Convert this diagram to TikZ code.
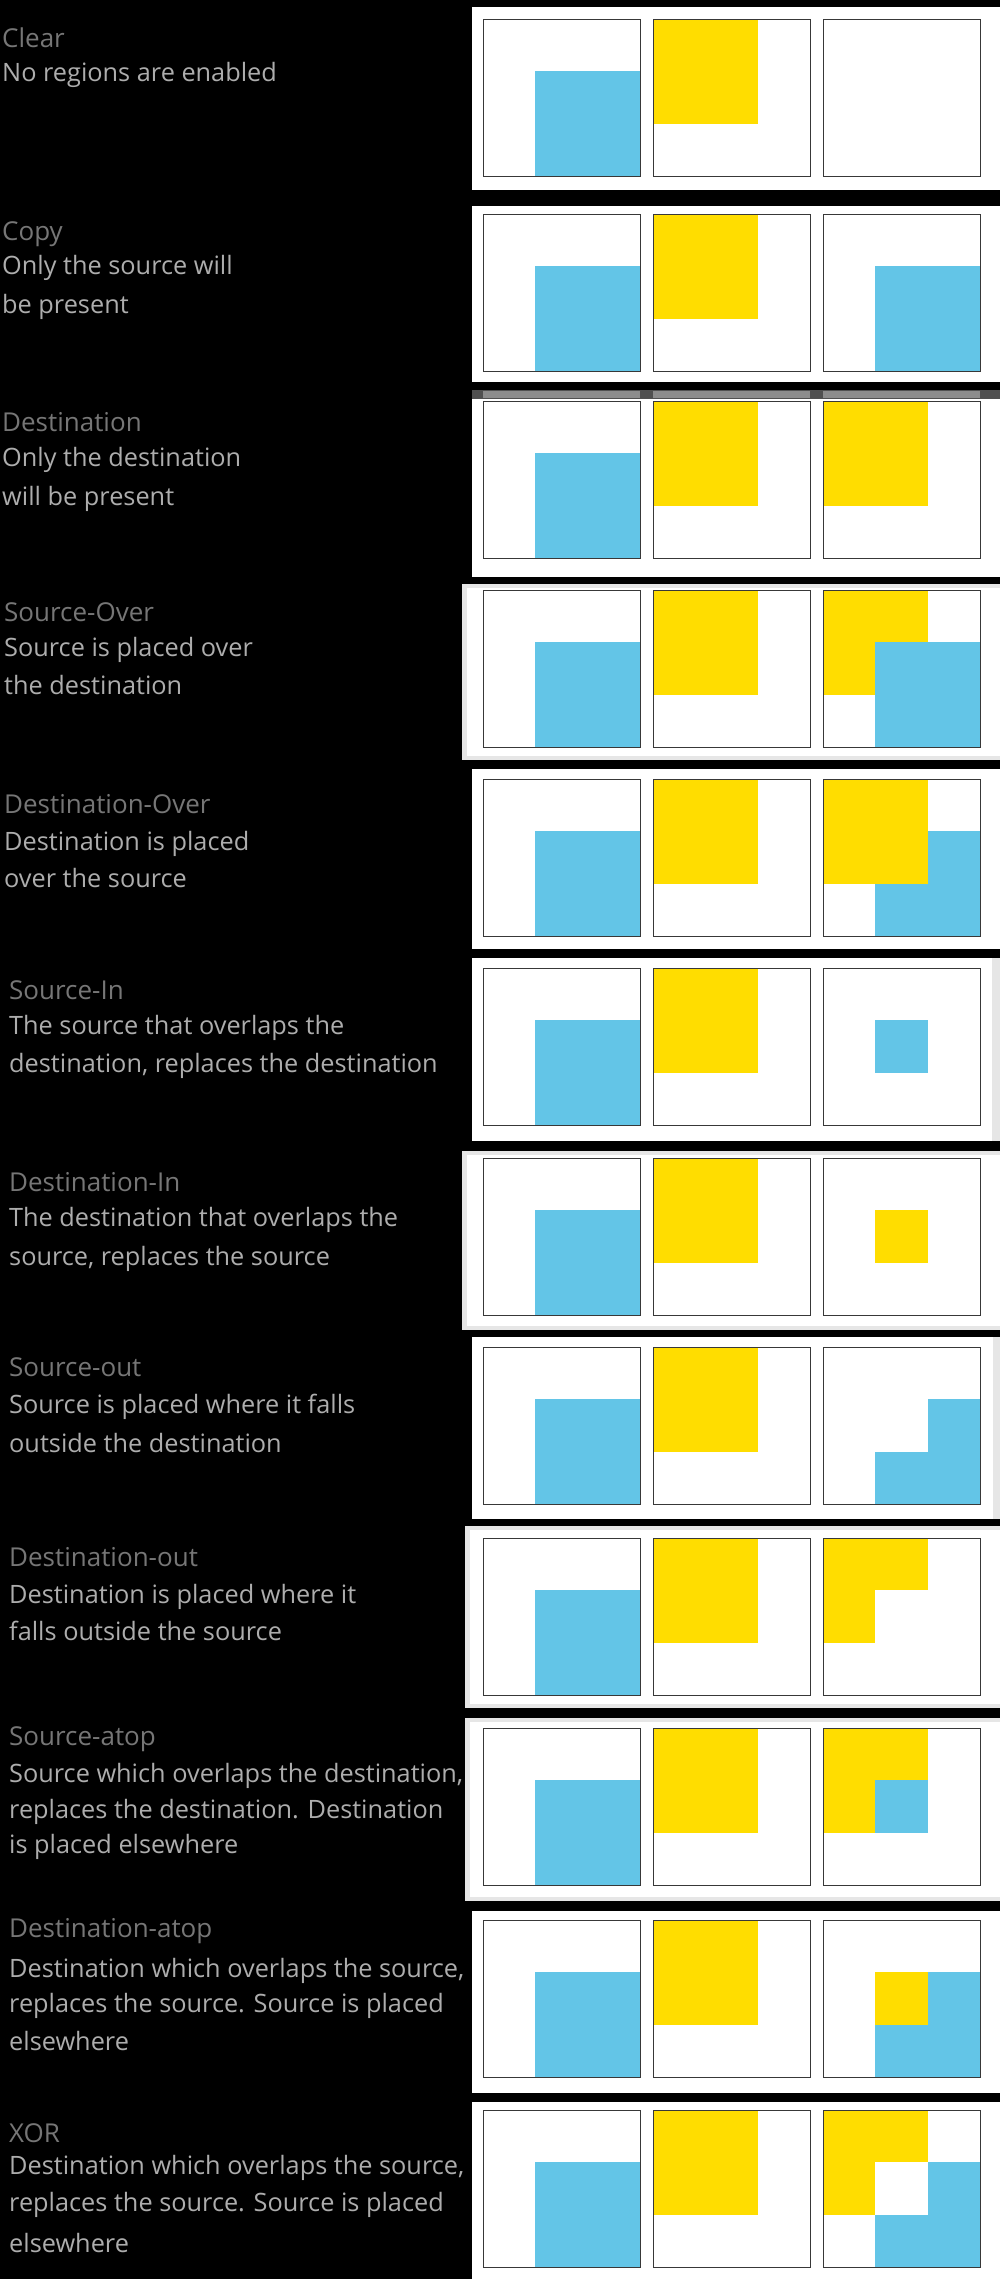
\documentclass[tikz,border=0pt]{standalone}
\usepackage{fontspec}
\setmainfont{Open Sans}
\definecolor{cblue}{HTML}{63C5E7}
\definecolor{cyellow}{HTML}{FFDD00}
\definecolor{ctitle}{HTML}{767676}
\definecolor{cdesc}{HTML}{ADADAD}
\definecolor{cframe}{HTML}{E6E6E6}
\definecolor{cbar}{HTML}{505050}
\newcommand\pdBlue[2]{\fill[cblue] (#1+52.33,#2+52.33) rectangle (#1+157,#2+157);}
\newcommand\pdYellow[2]{\fill[cyellow] (#1,#2) rectangle (#1+104.67,#2+104.67);}
\newcommand\pdOver[3]{\fill[#3] (#1+52.33,#2+52.33) rectangle (#1+104.67,#2+104.67);}
\newcommand\pdPanel[3]{\fill[white] (#1,#2) rectangle (1000,#3);}
\newcommand\pdFramed[3]{\fill[cframe] (#1,#2) rectangle (1000,#3);\fill[white] (#1+5,#2+4) rectangle (1000,#3-4);}
\newcommand\pdSquares[2]{%
  \node[sqbox] (sq#1a) at (483,#2) {};
  \node[sqbox] (sq#1b) at (653,#2) {};
  \node[sqbox] (sq#1c) at (823,#2) {};}
\begin{document}
\begin{tikzpicture}[x=1pt,y=-1pt,
  title/.style={anchor=base west, inner sep=0pt, text=ctitle, font=\fontsize{26}{30}\selectfont},
  desc/.style={anchor=base west, inner sep=0pt, text=cdesc, font=\fontsize{25.3}{30}\selectfont},
  sqbox/.style={draw=black!78, line width=1.2pt, minimum size=157pt, inner sep=0pt, anchor=north west}]
\fill[black] (0,0) rectangle (1000,2279);
\useasboundingbox (0,0) rectangle (1000,2279);
% panels
\pdPanel{472}{7}{190}
\pdPanel{472}{206}{382}
\pdPanel{472}{390}{577}
\fill[cbar] (472,390) rectangle (1000,399);
\fill[black!45] (483,391) rectangle (640,398);
\fill[black!45] (653,391) rectangle (810,398);
\fill[black!45] (823,391) rectangle (980,398);
\pdFramed{462}{584}{760}
\pdPanel{472}{769}{949}
\pdPanel{472}{958}{1141}
\fill[cframe] (992,958) rectangle (1000,1141);
\pdFramed{462}{1151}{1330}
\pdPanel{472}{1337}{1519}
\fill[cframe] (993,1337) rectangle (1000,1519);
\pdFramed{465}{1526}{1708}
\pdFramed{465}{1718}{1901}
\pdPanel{472}{1911}{2093}
\pdPanel{472}{2102}{2279}
% fills, columns 1 and 2
\foreach \t in {19,214,401,590,779,968,1158,1347,1538,1728,1920,2110}{
  \pdBlue{483}{\t}
  \pdYellow{653}{\t}
}
% column 3
% 2 Copy
\pdBlue{823}{214}
% 3 Destination
\pdYellow{823}{401}
% 4 Source-Over
\pdYellow{823}{590}\pdBlue{823}{590}
% 5 Destination-Over
\pdBlue{823}{779}\pdYellow{823}{779}
% 6 Source-In
\pdOver{823}{968}{cblue}
% 7 Destination-In
\pdOver{823}{1158}{cyellow}
% 8 Source-out
\pdBlue{823}{1347}\pdOver{823}{1347}{white}
% 9 Destination-out
\pdYellow{823}{1538}\pdOver{823}{1538}{white}
% 10 Source-atop
\pdYellow{823}{1728}\pdOver{823}{1728}{cblue}
% 11 Destination-atop
\pdBlue{823}{1920}\pdOver{823}{1920}{cyellow}
% 12 XOR
\pdYellow{823}{2110}\pdBlue{823}{2110}\pdOver{823}{2110}{white}
% square outlines
\pdSquares{1}{19}
\pdSquares{2}{214}
\pdSquares{3}{401}
\pdSquares{4}{590}
\pdSquares{5}{779}
\pdSquares{6}{968}
\pdSquares{7}{1158}
\pdSquares{8}{1347}
\pdSquares{9}{1538}
\pdSquares{10}{1728}
\pdSquares{11}{1920}
\pdSquares{12}{2110}
% texts
\node[title] (t1) at (2,47) {Clear};
\node[desc] (d1a) at (2,81) {No regions are enabled};
\node[title] (t2) at (2,240) {Copy};
\node[desc] (d2a) at (2,274) {Only the source will};
\node[desc] (d2b) at (2,313) {be present};
\node[title] (t3) at (2,431) {Destination};
\node[desc] (d3a) at (2,466) {Only the destination};
\node[desc] (d3b) at (2,505) {will be present};
\node[title] (t4) at (4,621) {Source-Over};
\node[desc] (d4a) at (4,656) {Source is placed over};
\node[desc] (d4b) at (4,694) {the destination};
\node[title] (t5) at (4,813) {Destination-Over};
\node[desc] (d5a) at (4,850) {Destination is placed};
\node[desc] (d5b) at (4,887) {over the source};
\node[title] (t6) at (9,999) {Source-In};
\node[desc] (d6a) at (9,1034) {The source that overlaps the};
\node[desc] (d6b) at (9,1072) {destination, replaces the destination};
\node[title] (t7) at (9,1191) {Destination-In};
\node[desc] (d7a) at (9,1226) {The destination that overlaps the};
\node[desc] (d7b) at (9,1265) {source, replaces the source};
\node[title] (t8) at (9,1376) {Source-out};
\node[desc] (d8a) at (9,1413) {Source is placed where it falls};
\node[desc] (d8b) at (9,1452) {outside the destination};
\node[title] (t9) at (9,1566) {Destination-out};
\node[desc] (d9a) at (9,1603) {Destination is placed where it};
\node[desc] (d9b) at (9,1640) {falls outside the source};
\node[title] (t10) at (9,1745) {Source-atop};
\node[desc] (d10a) at (9,1782) {Source which overlaps the destination,};
\node[desc] (d10b) at (9,1818) {replaces the destination. Destination};
\node[desc] (d10c) at (9,1853) {is placed elsewhere};
\node[title] (t11) at (9,1937) {Destination-atop};
\node[desc] (d11a) at (9,1977) {Destination which overlaps the source,};
\node[desc] (d11b) at (9,2012) {replaces the source. Source is placed};
\node[desc] (d11c) at (9,2050) {elsewhere};
\node[title] (t12) at (9,2142) {XOR};
\node[desc] (d12a) at (9,2174) {Destination which overlaps the source,};
\node[desc] (d12b) at (9,2211) {replaces the source. Source is placed};
\node[desc] (d12c) at (9,2252) {elsewhere};
\end{tikzpicture}
\end{document}
